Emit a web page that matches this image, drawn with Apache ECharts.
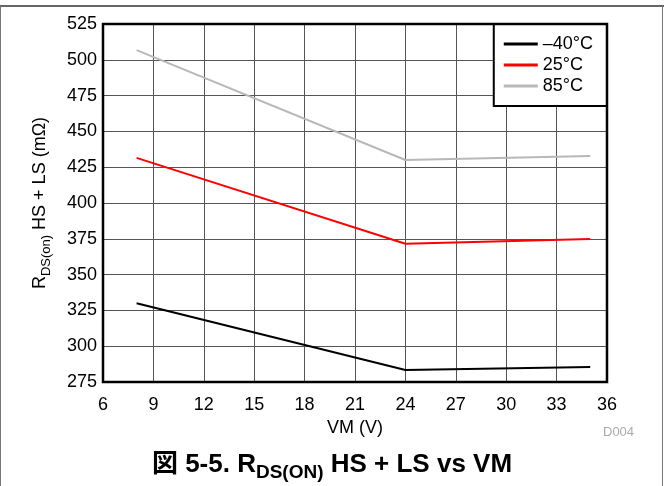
<!DOCTYPE html>
<html>
<head>
<meta charset="utf-8">
<script src="https://cdn.jsdelivr.net/npm/echarts@6/dist/echarts.min.js"></script>
<style>
html,body{margin:0;padding:0;background:#fff;}
#chart{width:664px;height:486px;}
</style>
</head>
<body>
<div id="chart"></div>
<script>
//---------------------------Data---------------------------
let vm = [8, 24, 35];
let rdsM40 = [330, 283.4, 285.5];
let rds25 = [431.5, 371.5, 374.8];
let rds85 = [506.8, 430, 432.8];
let seriesNames = ['\u201340\u00b0C', '25\u00b0C', '85\u00b0C'];
let seriesColors = ['#000000', '#ff0000', '#b8b8b8'];

let chart = echarts.init(document.getElementById('chart'));
let font = 'Liberation Sans, Arial, sans-serif';

function pairs(xs, ys) {
    let out = [];
    for (let i = 0; i < xs.length; i++) {
        out.push([xs[i], ys[i]]);
    }
    return out;
}

let allY = [rdsM40, rds25, rds85];
let series = [];
for (let i = 0; i < allY.length; i++) {
    series.push({
        name: seriesNames[i],
        type: 'line',
        data: pairs(vm, allY[i]),
        showSymbol: false,
        lineStyle: {color: seriesColors[i], width: 2},
        itemStyle: {color: seriesColors[i]}
    });
}

let option = {
    animation: false,
    textStyle: {fontFamily: font},
    grid: {left: 103, right: 57, top: 24, bottom: 104},
    legend: {
        right: 57, top: 24,
        orient: 'vertical',
        backgroundColor: '#fff',
        borderColor: '#000', borderWidth: 2, borderRadius: 0,
        padding: [11, 14, 11, 10],
        itemGap: 3,
        itemWidth: 34, itemHeight: 3,
        icon: 'rect',
        textStyle: {fontSize: 18, color: '#000', fontFamily: font}
    },
    xAxis: {
        type: 'value', min: 6, max: 36, interval: 3,
        name: 'VM (V)', nameLocation: 'middle', nameGap: 32,
        nameTextStyle: {fontSize: 18, color: '#000'},
        axisLine: {show: true, lineStyle: {color: '#000', width: 2}},
        axisTick: {show: false},
        axisLabel: {fontSize: 18, color: '#000', margin: 14},
        splitLine: {show: true, lineStyle: {color: '#555', width: 1}}
    },
    yAxis: {
        type: 'value', min: 275, max: 525, interval: 25,
        name: '{a|R}{b|DS(on)}{a| HS + LS (m\u03a9)}',
        nameLocation: 'middle', nameGap: 50, nameRotate: 90,
        nameTextStyle: {
            color: '#000',
            rich: {
                a: {fontSize: 18, color: '#000', fontFamily: font},
                b: {fontSize: 13, color: '#000', fontFamily: font, padding: [12, 0, 0, 0]}
            }
        },
        axisLine: {show: true, lineStyle: {color: '#000', width: 2}},
        axisTick: {show: false},
        axisLabel: {fontSize: 18, color: '#000', margin: 6},
        splitLine: {show: true, lineStyle: {color: '#555', width: 1}}
    },
    graphic: [
        {type: 'line', shape: {x1: 0, y1: 6, x2: 664, y2: 6}, style: {stroke: '#333', lineWidth: 1.5}},
        {type: 'line', shape: {x1: 0.5, y1: 6, x2: 0.5, y2: 486}, style: {stroke: '#777', lineWidth: 1}},
        {type: 'line', shape: {x1: 662.5, y1: 6, x2: 662.5, y2: 486}, style: {stroke: '#777', lineWidth: 1}},
        {type: 'rect', shape: {x: 103, y: 24, width: 504, height: 358}, style: {fill: 'none', stroke: '#000', lineWidth: 2.5}, z: 10},
        {type: 'text', left: 603, top: 426, style: {text: 'D004', fontSize: 13, fill: '#aaa', fontFamily: font}},
        {
            type: 'text', left: 'center', top: 452,
            style: {
                text: '{a|\u56f3 5-5. R}{b|DS(ON)}{a| HS + LS vs VM}',
                rich: {
                    a: {fontSize: 26, fontWeight: 'bold', fill: '#000', fontFamily: 'Liberation Sans, Noto Sans CJK JP, sans-serif'},
                    b: {fontSize: 19, fontWeight: 'bold', fill: '#000', fontFamily: font, padding: [15, 0, 0, 0]}
                }
            }
        }
    ],
    series: series
};

chart.setOption(option);
</script>
</body>
</html>
